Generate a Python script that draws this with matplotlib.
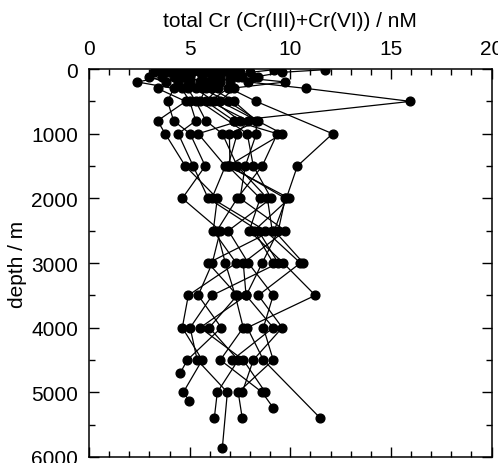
import matplotlib
matplotlib.use("Agg")
import matplotlib.pyplot as plt
from matplotlib.ticker import MultipleLocator

plt.rcParams['font.family'] = ['Liberation Sans', 'DejaVu Sans']

levels = [10, 50, 125, 200, 300, 500, 800, 1000, 1500, 2000, 2500, 3000, 3500, 4000, 4500, 5000]

st01 = [3.3, 3.2, 3.6, 2.4, 4.2, 3.9, 4.2, 5.02, 5.77, 4.63, 6.52, 6.12, 5.42, 6.57, 4.88, None]
st02 = [3.7, 3.9, 3.0, 3.8, 3.4, 4.8, 3.4, 3.78, 4.78, 6.37, 6.17, 7.31, 4.93, 4.63, 5.62, 4.68]
st03 = [4.0, 4.3, 4.6, 4.4, 4.9, 5.3, 5.8, 6.62, 7.36, 8.86, 9.1, 5.92, 7.36, 5.97, 7.41, 6.37]
st04 = [4.6, 4.8, 4.2, 4.9, 4.6, 5.0, 5.3, 4.43, 5.17, 5.92, 8.41, 9.4, 6.12, 5.02, 5.37, 6.87]
st05 = [5.0, 5.1, 5.6, 5.0, 5.8, 5.5, None, 7.86, 8.16, 9.05, 6.92, 7.91, 9.15, 8.66, 9.15, 7.41]
st06 = [5.3, 5.5, 5.0, 5.5, 5.3, 6.2, 7.5, 5.42, 6.77, 6.1, 8.76, 10.5, 8.41, 9.6, 8.16, 7.61]
st07 = [5.7, 5.9, 6.5, 5.8, 6.4, 5.8, 7.2, 9.35, 8.6, 7.36, 6.35, 6.77, 7.26, 7.66, 6.52, 8.6]
st08 = [6.0, 6.2, 6.1, 6.0, 5.6, 6.9, 8.4, 6.97, 7.0, 9.75, 9.4, 8.6, 7.81, 5.52, 7.66, 8.76]
st09 = [6.4, 6.6, 7.6, 6.3, 6.9, 6.0, 7.9, 7.36, 6.9, 8.5, 7.96, 9.65, 11.24, 7.86, 8.66, None]
st10 = [6.8, 7.0, 7.0, 6.5, 6.1, 7.2, 8.3, 8.31, 7.76, 7.5, 9.75, 7.66, 7.8, 9.15, 7.11, None]
st11 = [7.2, 7.5, 8.4, 7.0, 7.2, 6.5, None, 9.6, 6.9, 9.95, 8.2, 9.15, None, None, None, None]
st12 = [9.2, 8.0, 7.4, 9.75, 7.0, 8.3, None, 12.1, 10.35, 9.8, 9.2, 10.65, None, None, None, None]
st13 = [11.7, 9.6, 8.2, 7.9, 10.8, 15.97, 7.2, None, None, None, None, None, None, None, None, None]

profiles = [st01, st02, st03, st04, st05, st06, st07, st08, st09, st10, st11, st12, st13]

# deepest sample of each profile (depth, value); None when absent
deep_depth = [4700, 5130, 5400, 5860, 5400, None, 5240, None, 5400, None, None, None, None]
deep_value = [4.53, 4.98, 6.22, 6.62, 7.61, None, 9.15, None, 11.49, None, None, None, None]

fig = plt.figure(figsize=(4.98, 4.64), dpi=100)
ax = fig.add_axes([0.179, 0.013, 0.808, 0.836])

for vals, dd, dv in zip(profiles, deep_depth, deep_value):
    xs = [v for v in vals if v is not None]
    ys = [d for d, v in zip(levels, vals) if v is not None]
    if dd is not None:
        xs.append(dv)
        ys.append(dd)
    ax.plot(xs, ys, color='black', lw=0.9, marker='o', ms=6.3,
            mfc='black', mec='black')

ax.set_xlim(0, 20)
ax.set_ylim(6000, 0)
ax.xaxis.set_major_locator(MultipleLocator(5))
ax.xaxis.set_minor_locator(MultipleLocator(1))
ax.yaxis.set_major_locator(MultipleLocator(1000))
ax.yaxis.set_minor_locator(MultipleLocator(500))
ax.tick_params(which='both', direction='in', top=True, right=True,
               labeltop=True, labelbottom=False, labelsize=15, width=1)
ax.tick_params(which='major', length=7, pad=8)
ax.tick_params(which='minor', length=4)
ax.xaxis.set_label_position('top')
ax.set_xlabel('total Cr (Cr(III)+Cr(VI)) / nM', fontsize=15, labelpad=9)
ax.set_ylabel('depth / m', fontsize=15, labelpad=3)
for s in ax.spines.values():
    s.set_linewidth(1.1)

fig.savefig('out.png', dpi=100)
